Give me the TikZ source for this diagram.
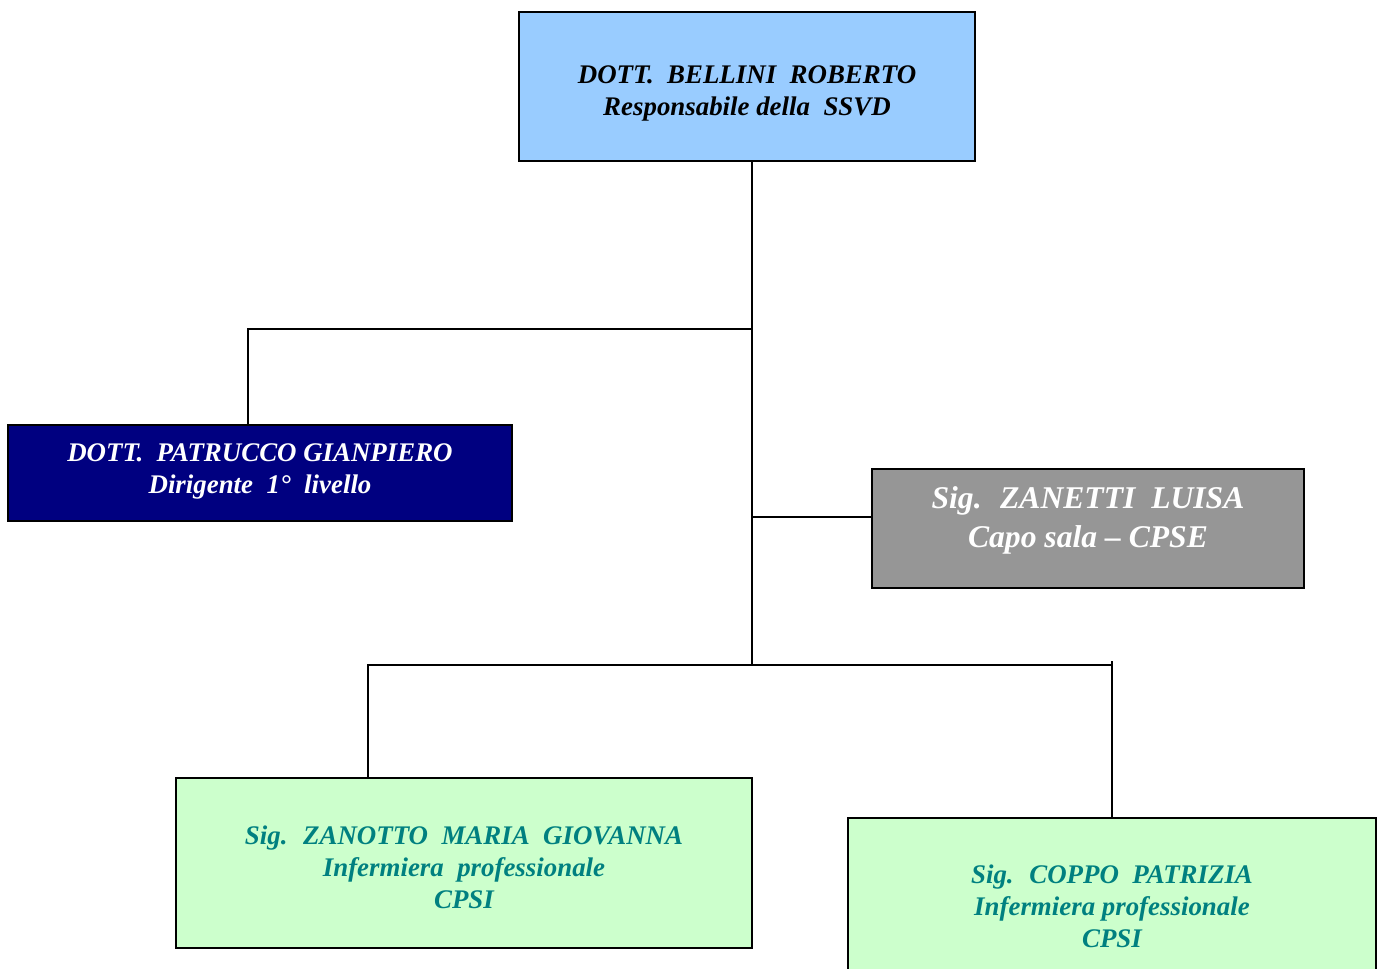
\documentclass[tikz,border=0pt]{standalone}
\usepackage{fontspec}
\setmainfont{Liberation Serif}
\definecolor{bossblue}{HTML}{99CCFF}
\definecolor{navyblue}{HTML}{000080}
\definecolor{salagrey}{HTML}{969696}
\definecolor{nursegreen}{HTML}{CCFFCC}
\definecolor{nurseteal}{HTML}{008080}
\tikzset{
  box/.style={draw, line width=0.8pt},
  boxtext/.style={align=center, font=\bfseries\itshape\fontsize{15.3}{18.1}\selectfont},
  bigtext/.style={align=center, font=\bfseries\itshape\fontsize{18}{22.1}\selectfont},
  link/.style={line width=1.1pt}
}

\begin{document}
\begin{tikzpicture}[x=0.02cm, y=-0.02cm]
			\clip (0,0) rectangle (1383,968);
			\draw (747, 86.5) node [box, fill=bossblue, minimum width=9.12cm, minimum height=2.98cm,
				label={[boxtext, yshift=-4pt]center:{DOTT.~ BELLINI~ ROBERTO\\Responsabile della~ SSVD}}] (boss) {};
			\draw (260, 473) node [box, fill=navyblue, minimum width=10.08cm, minimum height=1.92cm,
				label={[boxtext, text=white, yshift=1pt]center:{DOTT.~ PATRUCCO GIANPIERO\\Dirigente~ 1°~ livello}}] (patr) {};
			\draw (1088, 528.5) node [box, fill=salagrey, minimum width=8.64cm, minimum height=2.38cm,
				label={[bigtext, text=white, yshift=4.5pt]center:{Sig.~ ZANETTI~ LUISA\\Capo sala -- CPSE}}] (zan) {};
			\draw (464, 863) node [box, fill=nursegreen, minimum width=11.52cm, minimum height=3.4cm,
				label={[boxtext, text=nurseteal, yshift=-2.3pt]center:{Sig.~ ZANOTTO~ MARIA~ GIOVANNA\\Infermiera~ professionale\\CPSI}}] (zanotto) {};
			\draw (1112, 906.5) node [box, fill=nursegreen, minimum width=10.56cm, minimum height=3.54cm,
				label={[boxtext, text=nurseteal]center:{Sig.~ COPPO~ PATRIZIA\\Infermiera professionale\\CPSI}}] (coppo) {};
			\coordinate (top) at (752, 161);
			\coordinate (jl) at (752, 329);
			\coordinate (jr) at (752, 517);
			\coordinate (jb) at (752, 665);
			\coordinate (pl) at (248, 425);
			\coordinate (zl) at (368, 778);
			\coordinate (ck) at (1112, 661);
			\draw[link] (top) -- (jb);
			\draw[link] (jl) -| (pl);
			\draw[link] (jr) -- (jr -| zan.west);
			\draw[link] (zl) |- (jb -| coppo.north);
			\draw[link] (coppo.north) -- (ck);
		\end{tikzpicture}
\end{document}
